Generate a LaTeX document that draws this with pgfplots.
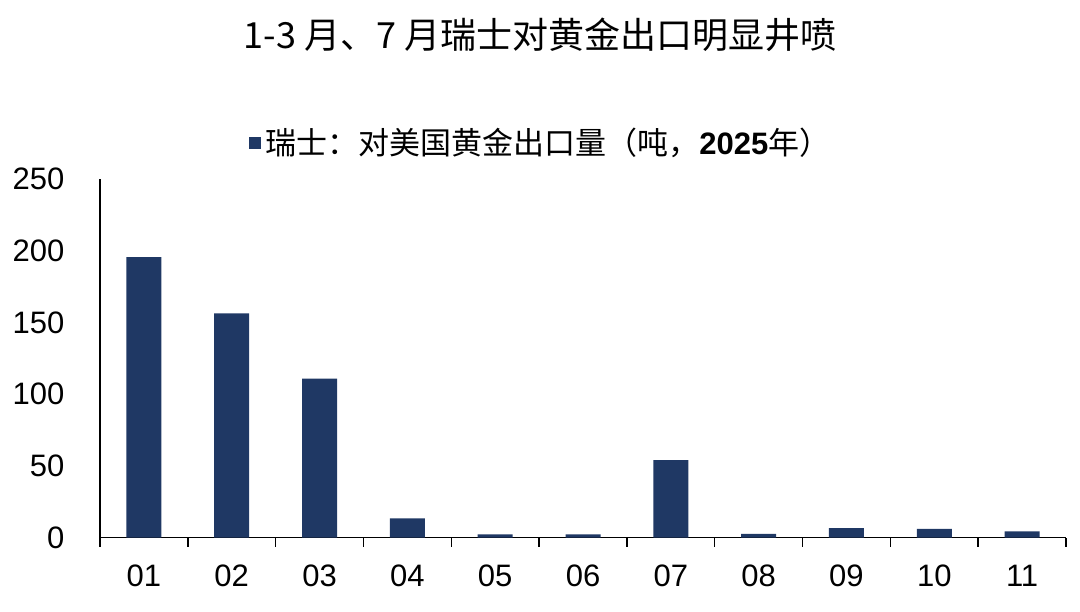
\documentclass[border=0pt]{standalone}
\usepackage{fontspec}
\setmainfont{Liberation Sans}
\newfontfamily\cjk{Noto Sans CJK SC}
\usepackage{pgfplots}
\pgfplotsset{compat=1.18}
\definecolor{barblue}{RGB}{31,56,100}
\begin{document}
\begin{tikzpicture}
\path[use as bounding box] (0,0) rectangle (540pt,305.5pt);
\begin{axis}[
    at={(50pt,36.65pt)}, anchor=south west,
    scale only axis, width=483pt, height=179.35pt,
    xmin=-0.5, xmax=10.5, ymin=0, ymax=250,
    axis x line*=bottom, axis y line*=left,
    axis line style={-, line width=0.75pt, black},
    xtick={0,...,10},
    xticklabels={01,02,03,04,05,06,07,08,09,10,11},
    minor xtick={-0.5,0.5,...,10.5},
    ytick={0,50,...,250},
    tick align=outside,
    major x tick style={draw=none},
    minor x tick style={line width=0.75pt, black},
    minor tick length=4.5pt,
    ytick style={draw=none},
    tick label style={font=\fontsize{15.5}{16}\selectfont},
    /pgf/number format/assume math mode=true,
    xticklabel style={yshift=-6pt},
    yticklabel style={xshift=-10pt},
    clip=false,
    legend style={draw=none, fill=none,
        at={(axis description cs:0.4575,1.10)}, anchor=center,
        font=\cjk\fontsize{15.5}{16}\selectfont},
    legend image code/.code={\fill[barblue] (0pt,-3pt) rectangle (6pt,3pt);},
]
\addplot[ybar, bar width=17.5pt, bar shift=0pt, fill=barblue, draw=none]
  coordinates {(0,195.5) (1,156.3) (2,110.8) (3,13.5) (4,2.3) (5,2.3)
               (6,54.0) (7,2.6) (8,6.7) (9,6.1) (10,4.4)};
\addlegendentry{瑞士：对美国黄金出口量（吨，{\rmfamily\bfseries 2025}年）}
\node[font=\cjk\fontsize{18}{20}\selectfont] at (axis description cs:0.4555,1.4015)
  {1-3 月、7 月瑞士对黄金出口明显井喷};
\end{axis}
\end{tikzpicture}
\end{document}
